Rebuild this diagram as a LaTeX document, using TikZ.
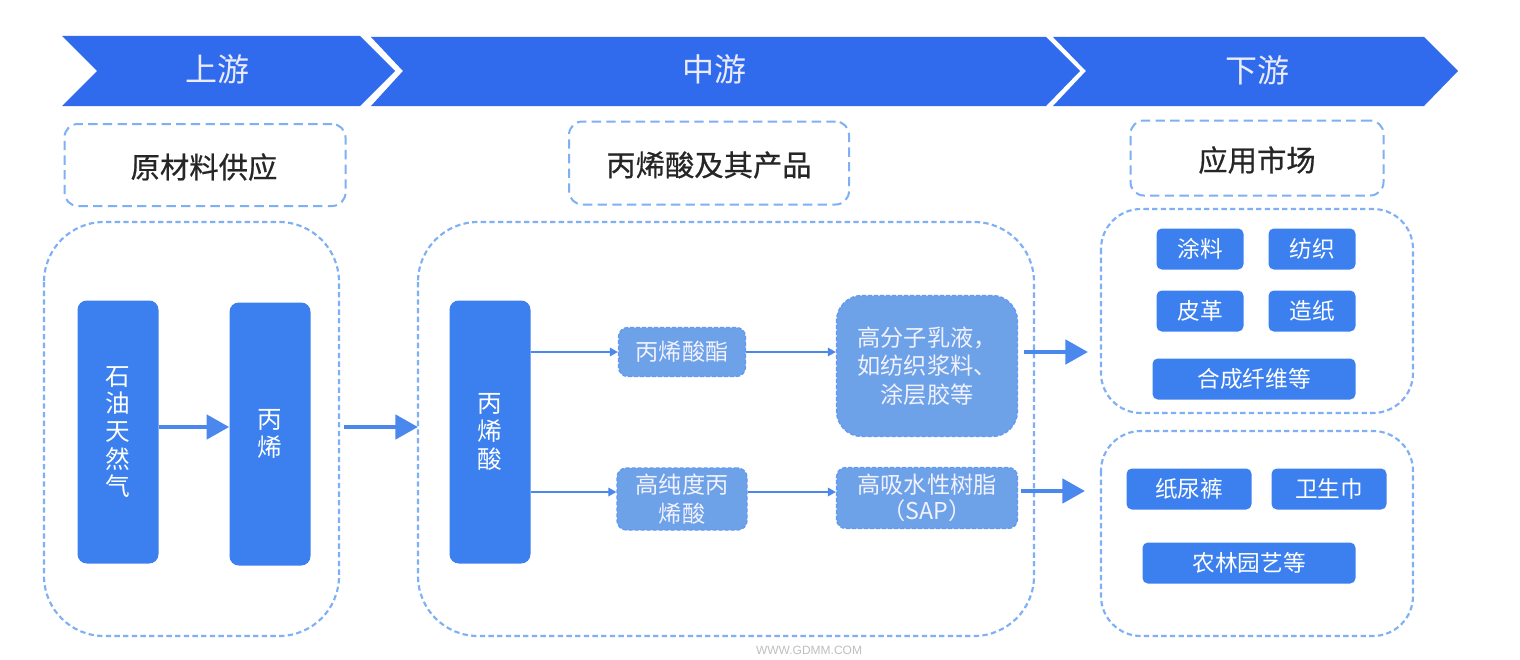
\documentclass[tikz,border=0pt]{standalone}
\usepackage{fontspec}
\setmainfont{Noto Sans CJK SC}
\newfontfamily\latinf{Liberation Sans}
\newfontfamily\boldish[FakeBold=0.6]{Noto Sans CJK SC}
\usetikzlibrary{arrows.meta}
\definecolor{banner}{HTML}{2F6BEC}
\definecolor{solidblue}{HTML}{3C80F0}
\definecolor{softblue}{HTML}{6DA1E8}
\definecolor{dashblue}{HTML}{7FAFF5}
\definecolor{linkblue}{HTML}{4A88EE}
\tikzset{
 x=0.75pt,y=-0.75pt,
 chev/.style={fill=banner,draw=none},
 headtxt/.style={text=white!92!blue,font=\fontsize{24}{24}\selectfont,inner sep=0pt},
 headbox/.style={draw=dashblue,line width=1.5pt,dash pattern=on 7pt off 4pt,rounded corners=10pt,fill=white},
 headlab/.style={font=\boldish\fontsize{22}{24}\selectfont,text=black!85,inner sep=0pt},
 groupbox/.style={draw=dashblue,line width=1.6pt,dash pattern=on 4pt off 2.5pt},
 solidbox/.style={fill=solidblue,rounded corners=7pt,text=white,align=center,inner sep=0pt},
 softbox/.style={fill=softblue,draw=solidblue!80,line width=1pt,dash pattern=on 3pt off 1.5pt,text=white!95!blue,align=center,inner sep=0pt},
 thin link/.style={draw=linkblue,line width=0.9pt,-{Triangle[length=6pt,width=6.5pt]}},
 thick link/.style={draw=linkblue,line width=3.6pt,-{Triangle[length=17pt,width=18pt]}},
 col/.style={font=\fontsize{18.5}{20.7}\selectfont},
 midA/.style={font=\fontsize{17.4}{21.4}\selectfont},
 midB/.style={font=\fontsize{17.4}{19.5}\selectfont},
 small/.style={font=\fontsize{17}{19}\selectfont},
}
\begin{document}
\begin{tikzpicture}
\useasboundingbox[fill=white] (0,0) rectangle (1520,660);
% banners
\fill[chev] (62,36) -- (360,36) -- (395,71) -- (360,106) -- (62,106) -- (97,71) -- cycle;
\fill[chev] (371,37) -- (1046,37) -- (1080,71) -- (1046,106) -- (371,106) -- (403,71) -- cycle;
\fill[chev] (1053,37) -- (1424,37) -- (1458,71) -- (1424,106) -- (1053,106) -- (1086,71) -- cycle;
\node[headtxt] (h1) at (217,69) {上游};
\node[headtxt] (h2) at (714,69) {中游};
\node[headtxt] (h3) at (1257,70) {下游};
% header boxes
\node[headbox,minimum width=281pt*0.75,minimum height=82pt*0.75] (b1) at (205,165) {};
\node[headlab] (l1) at (204,167) {原材料供应};
\node[headbox,minimum width=280pt*0.75,minimum height=83pt*0.75] (b2) at (709,163) {};
\node[headlab] (l2) at (709,165) {丙烯酸及其产品};
\node[headbox,minimum width=253pt*0.75,minimum height=75pt*0.75] (b3) at (1257,158) {};
\node[headlab] (l3) at (1257,160) {应用市场};
% groups
\draw[groupbox,rounded corners=45pt] (44,222) rectangle (339,636);
\draw[groupbox,rounded corners=45pt] (418,222) rectangle (1034,636);
\draw[groupbox,rounded corners=30pt] (1101,209) rectangle (1413,413);
\draw[groupbox,rounded corners=30pt] (1101,431) rectangle (1413,636);
% upstream
\node[solidbox,col,minimum width=81pt*0.75,minimum height=263pt*0.75] (oil) at (118,432) {石\\油\\天\\然\\气};
\node[solidbox,col,minimum width=81pt*0.75,minimum height=263pt*0.75] (pp) at (270,434) {丙\\烯};
\node[solidbox,col,minimum width=81pt*0.75,minimum height=263pt*0.75] (aa) at (490,432) {丙\\烯\\酸};
\draw[thick link] (oil.east |- 0,427) -- (pp.west |- 0,427);
\coordinate (midstart) at (344,427);
\coordinate (midend) at (418,427);
\draw[thick link] (midstart) -- (midend);
% midstream
\node[softbox,midA,minimum width=127pt*0.75,minimum height=49pt*0.75,rounded corners=7pt] (ester) at (682,352) {丙烯酸酯};
\node[softbox,midA,minimum width=130pt*0.75,minimum height=62pt*0.75,rounded corners=7pt] (hp) at (682,499) {高纯度丙\\烯酸};
\node[softbox,midA,minimum width=181pt*0.75,minimum height=141pt*0.75,rounded corners=19pt] (emul) at (927,366) {高分子乳液，\\如纺织浆料、\\涂层胶等};
\node[softbox,midB,minimum width=181pt*0.75,minimum height=61pt*0.75,rounded corners=7pt] (sap) at (927,498) {高吸水性树脂\\（SAP）};
\draw[thin link] (aa.east |- ester) -- (ester.west);
\draw[thin link] (aa.east |- 0,492) -- (hp.west |- 0,492);
\draw[thin link] (ester.east) -- (emul.west |- ester);
\draw[thin link] (hp.east |- 0,492) -- (sap.west |- 0,492);
\coordinate (r1) at (1088,352);
\coordinate (r2) at (1085,491);
\draw[thick link] (emul.east |- r1) ++(6,0) -- (r1);
\draw[thick link] (sap.east |- r2) ++(3,0) -- (r2);
% downstream
\tikzset{mkt/.style={solidbox,small,rounded corners=4pt,minimum height=41pt*0.75}}
\node[mkt,minimum width=87pt*0.75] (t1) at (1200,249) {涂料};
\node[mkt,minimum width=87pt*0.75] (t2) at (1312,249) {纺织};
\node[mkt,minimum width=87pt*0.75] (t3) at (1200,311) {皮革};
\node[mkt,minimum width=87pt*0.75] (t4) at (1312,311) {造纸};
\node[mkt,minimum width=203pt*0.75] (t5) at (1254,379) {合成纤维等};
\node[mkt,minimum width=125pt*0.75] (t6) at (1189,489) {纸尿裤};
\node[mkt,minimum width=115pt*0.75] (t7) at (1329,489) {卫生巾};
\node[mkt,minimum width=213pt*0.75] (t8) at (1249,563) {农林园艺等};
% footer mark
\node[inner sep=0pt,text=black!25,font=\latinf\fontsize{9}{9}\selectfont] (site) at (809,650) {WWW.GDMM.COM};
\end{tikzpicture}
\end{document}
